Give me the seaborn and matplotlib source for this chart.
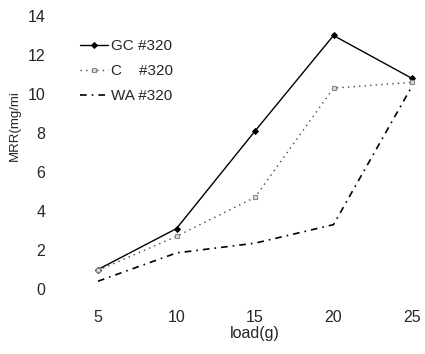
import numpy as np
import pandas as pd
import matplotlib
matplotlib.use('Agg')
import matplotlib.pyplot as plt
import seaborn as sb

# values
load = [5, 10, 15, 20, 25]
gc = [1.0, 3.1, 8.1, 13.0, 10.8]
c = [0.95, 2.7, 4.7, 10.3, 10.6]
wa = [0.4, 1.85, 2.35, 3.3, 10.4]
labels = ['GC #320', 'C    #320', 'WA #320']

sb.set_style('white')
plt.rcParams['font.family'] = ['Liberation Sans', 'DejaVu Sans']

fig = plt.figure(figsize=(4.25, 3.54), dpi=100)
ax = fig.add_axes([98/425, 1-289/354, 314/425, 273/354])

sb.lineplot(x=load, y=gc, ax=ax, color='black', lw=1.0, marker='D', markersize=3,
            markeredgecolor='black', label=labels[0], clip_on=False)
sb.lineplot(x=load, y=c, ax=ax, color='#444444', lw=1.0, marker='s', markersize=3.5,
            markerfacecolor='#dddddd', markeredgecolor='#888888', markeredgewidth=0.8,
            label=labels[1], clip_on=False)
sb.lineplot(x=load, y=wa, ax=ax, color='black', lw=1.2, label=labels[2], clip_on=False)
ax.lines[1].set_linestyle((0, (1, 3)))
ax.lines[2].set_dashes([4, 3, 1, 3])

ax.set_xlim(5, 25)
ax.set_ylim(0, 14)
ax.set_xticks(load)
ax.set_yticks(range(0, 15, 2))
for s in ax.spines.values():
    s.set_visible(False)
ax.tick_params(axis='both', length=0, labelsize=11.5)
ax.tick_params(axis='y', pad=38)
ax.tick_params(axis='x', pad=15)
ax.grid(False)

ax.set_xlabel('load(g)', fontsize=11.5, labelpad=1)
ax.set_ylabel('MRR(mg/mi', fontsize=9.5)
ax.yaxis.set_label_coords(-0.245, 0.60)

leg = ax.legend(loc='upper left', bbox_to_anchor=(80/425, 1-39/354), bbox_transform=fig.transFigure,
                frameon=False, fontsize=11, handlelength=1.8, handletextpad=0.2,
                labelspacing=0.72, borderaxespad=0, borderpad=0)

fig.savefig('out.png', dpi=100)
